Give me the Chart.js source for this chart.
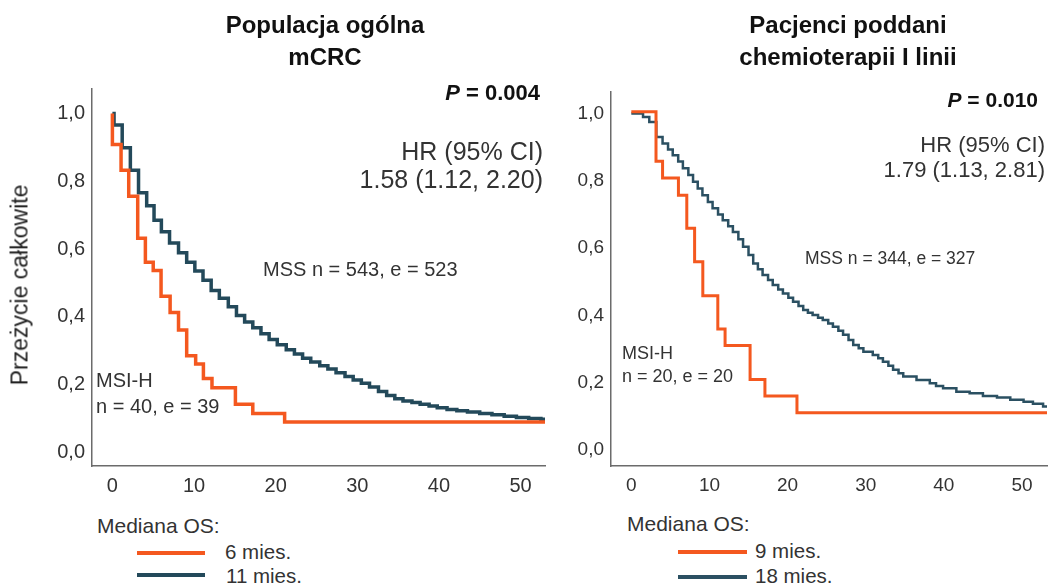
<!DOCTYPE html>
<html lang="pl">
  <head>
    <meta charset="UTF-8" />
    <title>MSI-H vs MSS - przeżycie całkowite</title>
    <script src="https://cdn.jsdelivr.net/npm/chart.js"></script>
    <style>
      body {
        margin: 0;
        background: #ffffff;
        font-family: "Liberation Sans", Arial, sans-serif;
        color: #333333;
      }
      .page {
        position: relative;
        width: 1050px;
        height: 588px;
        overflow: hidden;
      }
      .chart-box {
        position: absolute;
        top: 70px;
        height: 440px;
      }
      .txt {
        position: absolute;
        white-space: nowrap;
      }
      .title {
        font-weight: bold;
        font-size: 24px;
        line-height: 32px;
        color: #111;
        text-align: center;
        width: 300px;
      }
      .pval {
        font-weight: bold;
        color: #111;
        text-align: right;
      }
      .hr {
        text-align: right;
        color: #333;
      }
      .legend-line {
        position: absolute;
        height: 4px;
      }
    </style>
  </head>
  <body>
    <div class="page">
      <div class="chart-box" style="left: 0; width: 560px">
        <canvas id="chartLeft"></canvas>
      </div>
      <div class="chart-box" style="left: 560px; width: 490px">
        <canvas id="chartRight"></canvas>
      </div>

      <!-- left panel texts -->
      <div class="txt title" style="left: 175px; top: 9px">Populacja ogólna<br />mCRC</div>
      <div class="txt pval" style="right: 510px; top: 80px; font-size: 22px"><i>P</i> = 0.004</div>
      <div class="txt hr" style="right: 507px; top: 137px; font-size: 25px; line-height: 28px">HR (95% CI)<br />1.58 (1.12, 2.20)</div>
      <div class="txt" style="left: 263px; top: 258px; font-size: 20px">MSS n = 543, e = 523</div>
      <div class="txt" style="left: 96px; top: 367px; font-size: 20px; line-height: 26px">MSI-H<br />n = 40, e = 39</div>
      <div class="txt" style="left: 20px; top: 285px; font-size: 23px; color: #222; transform: translate(-50%, -50%) rotate(-90deg)">Przeżycie całkowite</div>

      <!-- right panel texts -->
      <div class="txt title" style="left: 698px; top: 9px">Pacjenci poddani<br />chemioterapii I linii</div>
      <div class="txt pval" style="right: 12px; top: 88px; font-size: 21px"><i>P</i> = 0.010</div>
      <div class="txt hr" style="right: 5px; top: 132px; font-size: 22px; line-height: 25px">HR (95% CI)<br />1.79 (1.13, 2.81)</div>
      <div class="txt" style="left: 805px; top: 248px; font-size: 17.5px">MSS n = 344, e = 327</div>
      <div class="txt" style="left: 622px; top: 342px; font-size: 18px; line-height: 23px">MSI-H<br />n = 20, e = 20</div>

      <!-- legends -->
      <div class="txt" style="left: 97px; top: 514px; font-size: 21px">Mediana OS:</div>
      <div class="legend-line" style="left: 137px; top: 551px; width: 68px; background: #f4581f"></div>
      <div class="txt" style="left: 225px; top: 540px; font-size: 20.5px">6 mies.</div>
      <div class="legend-line" style="left: 137px; top: 573px; width: 68px; background: #23495a"></div>
      <div class="txt" style="left: 226px; top: 564px; font-size: 20.5px">11 mies.</div>

      <div class="txt" style="left: 627px; top: 512px; font-size: 21px">Mediana OS:</div>
      <div class="legend-line" style="left: 678px; top: 550px; width: 69px; background: #f4581f"></div>
      <div class="txt" style="left: 755px; top: 539px; font-size: 20.5px">9 mies.</div>
      <div class="legend-line" style="left: 678px; top: 575px; width: 69px; background: #2b5062"></div>
      <div class="txt" style="left: 755px; top: 564px; font-size: 20.5px">18 mies.</div>
    </div>

    <script>
      // tick labels
      const xTicks = [0, 10, 20, 30, 40, 50];
      const yTicks = [0, 0.2, 0.4, 0.6, 0.8, 1.0];

      // --- left: general mCRC population (months, survival) ---
      const leftMsiTimes = [0, 0, 1.06, 2.0, 3.1, 4.04, 5.0, 5.96, 7.07, 8.1, 9.1, 10.2, 11.15, 12.2, 15.07, 17.2, 21.1, 53];
      const leftMsiSurv = [1.0, 0.908, 0.832, 0.756, 0.632, 0.561, 0.537, 0.461, 0.413, 0.361, 0.285, 0.261, 0.218, 0.191, 0.142, 0.115, 0.09, 0.09];

      const leftMssTimes = [
        0, 0.2, 1.2, 2.2, 3.2, 4.2, 5.1, 6.0, 7.0, 8.1, 9.1, 10.1, 11.1, 12.1, 13.1, 14.2, 15.2, 16.2, 17.2, 18.2,
        19.2, 20.2, 21.3, 22.3, 23.3, 24.3, 25.4, 26.4, 27.4, 28.5, 29.5, 30.5, 31.5, 32.6, 33.6, 34.6, 35.6, 36.7,
        37.7, 38.8, 39.8, 41.0, 42.2, 43.5, 45.0, 46.5, 48.0, 49.5, 51.0, 52.5, 53
      ];
      const leftMssSurv = [
        1.0, 0.966, 0.899, 0.832, 0.766, 0.728, 0.685, 0.651, 0.618, 0.589, 0.561, 0.535, 0.508, 0.478, 0.455, 0.43,
        0.404, 0.385, 0.368, 0.35, 0.333, 0.318, 0.303, 0.29, 0.278, 0.267, 0.256, 0.246, 0.235, 0.224, 0.214, 0.204,
        0.193, 0.18, 0.168, 0.158, 0.152, 0.147, 0.142, 0.137, 0.132, 0.127, 0.123, 0.119, 0.115, 0.111, 0.107, 0.103,
        0.1, 0.098, 0.098
      ];

      // --- right: first-line chemotherapy ---
      const rightMsiTimes = [0, 3.16, 4.0, 6.03, 7.1, 8.1, 9.15, 11.07, 12.0, 15.2, 17.1, 21.2, 53.2];
      const rightMsiSurv = [1.005, 0.858, 0.808, 0.757, 0.659, 0.559, 0.458, 0.359, 0.31, 0.209, 0.16, 0.11, 0.11];

      const rightMssTimes = [
        0, 1.5, 2.3, 3.2, 4.0, 4.7, 5.3, 6.0, 6.6, 7.3, 7.9, 8.5, 9.1, 9.8, 10.4, 11.1, 11.7, 12.4, 13.0, 13.7, 14.3,
        15.0, 15.6, 16.2, 16.8, 17.5, 18.1, 18.8, 19.4, 20.1, 20.7, 21.4, 22.0, 22.6, 23.2, 23.9, 24.5, 25.2, 25.8,
        26.5, 27.1, 27.8, 28.4, 29.1, 29.7, 30.9, 31.6, 32.2, 32.9, 33.5, 34.2, 34.8, 36.5, 38.2, 39.0, 39.9, 41.6,
        43.3, 45.0, 46.8, 48.5, 50.2, 51.4, 52.7, 53.2
      ];
      const rightMssSurv = [
        1.0, 0.99, 0.975, 0.93, 0.911, 0.893, 0.876, 0.857, 0.837, 0.817, 0.797, 0.777, 0.757, 0.737, 0.718, 0.7,
        0.683, 0.665, 0.648, 0.626, 0.604, 0.579, 0.554, 0.537, 0.52, 0.505, 0.49, 0.477, 0.465, 0.452, 0.44, 0.428,
        0.416, 0.408, 0.401, 0.393, 0.386, 0.376, 0.366, 0.354, 0.342, 0.327, 0.312, 0.302, 0.292, 0.282, 0.272,
        0.262, 0.25, 0.238, 0.228, 0.218, 0.208, 0.198, 0.19, 0.183, 0.173, 0.168, 0.16, 0.156, 0.149, 0.143, 0.137,
        0.129, 0.129
      ];

      const ORANGE = "#f4581f";

      function toPoints(times, surv) {
        return times.map((t, i) => ({ x: t, y: surv[i] }));
      }

      function makeKM(canvasId, cfg) {
        const ctx = document.getElementById(canvasId);
        return new Chart(ctx, {
          type: "line",
          data: {
            datasets: [
              {
                label: "MSI-H",
                data: toPoints(cfg.msiTimes, cfg.msiSurv),
                borderColor: ORANGE,
                borderWidth: cfg.msiWidth,
                stepped: true,
                pointRadius: 0,
                fill: false,
              },
              {
                label: "MSS",
                data: toPoints(cfg.mssTimes, cfg.mssSurv),
                borderColor: cfg.blue,
                borderWidth: cfg.mssWidth,
                stepped: true,
                pointRadius: 0,
                fill: false,
              },
            ],
          },
          options: {
            responsive: true,
            maintainAspectRatio: false,
            animation: false,
            layout: { padding: cfg.padding },
            plugins: { legend: { display: false }, tooltip: { enabled: false } },
            scales: {
              x: {
                type: "linear",
                min: cfg.xMin,
                max: cfg.xMax,
                afterBuildTicks: (s) => (s.ticks = xTicks.map((v) => ({ value: v }))),
                afterFit: (s) => (s.height = 44),
                grid: { display: false, drawTicks: false },
                border: { color: "#6b6b6b", width: 1.5 },
                ticks: {
                  padding: 8,
                  color: "#333",
                  font: { family: "Liberation Sans", size: cfg.tickSize },
                },
              },
              y: {
                min: cfg.yMin,
                max: cfg.yMax,
                afterBuildTicks: (s) => (s.ticks = yTicks.map((v) => ({ value: v }))),
                afterFit: (s) => (s.width = cfg.yWidth),
                grid: { display: false, drawTicks: false },
                border: { color: "#6b6b6b", width: 1.5 },
                ticks: {
                  padding: 7,
                  color: "#333",
                  font: { family: "Liberation Sans", size: cfg.tickSize },
                  callback: (v) => v.toFixed(1).replace(".", ","),
                },
              },
            },
          },
        });
      }

      makeKM("chartLeft", {
        msiTimes: leftMsiTimes,
        msiSurv: leftMsiSurv,
        mssTimes: leftMssTimes,
        mssSurv: leftMssSurv,
        blue: "#23495a",
        msiWidth: 3.5,
        mssWidth: 3.5,
        padding: { top: 10, right: 15, left: 0, bottom: 0 },
        yWidth: 92,
        xMin: -2.5,
        xMax: 53,
        yMin: -0.04,
        yMax: 1.072,
        tickSize: 20,
      });

      makeKM("chartRight", {
        msiTimes: rightMsiTimes,
        msiSurv: rightMsiSurv,
        mssTimes: rightMssTimes,
        mssSurv: rightMssSurv,
        blue: "#2b5062",
        msiWidth: 3,
        mssWidth: 2.5,
        padding: { top: 22, right: 3, left: 0, bottom: 0 },
        yWidth: 51,
        xMin: -2.6,
        xMax: 53.2,
        yMin: -0.048,
        yMax: 1.064,
        tickSize: 19,
      });
    </script>
  </body>
</html>
